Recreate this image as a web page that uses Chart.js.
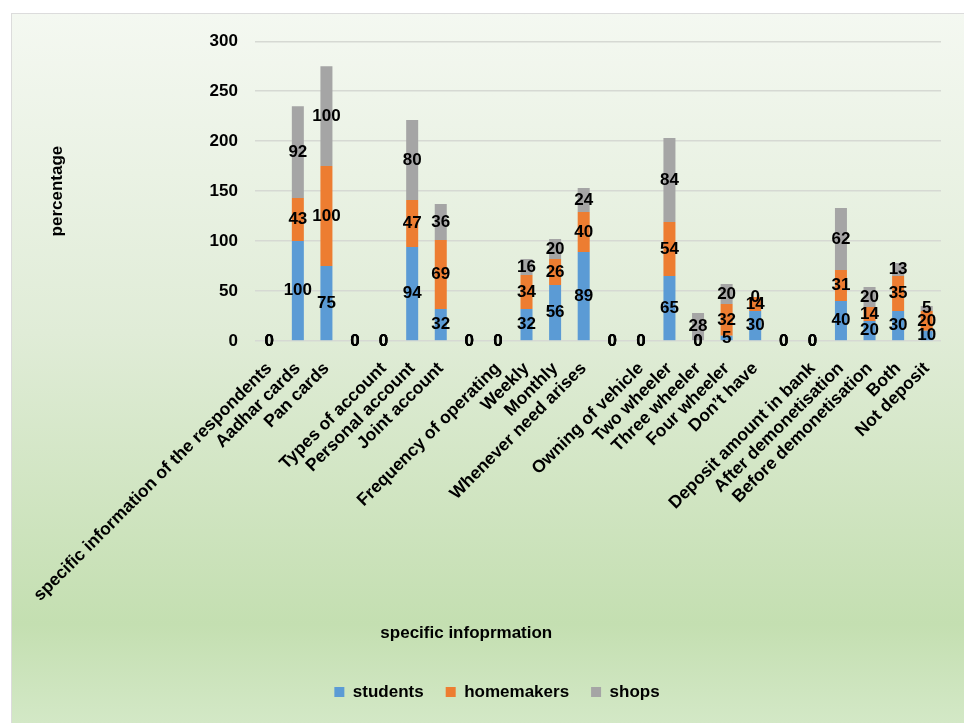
<!DOCTYPE html>
<html>
<head>
<meta charset="utf-8">
<title>specific infoprmation</title>
<script src="https://cdn.jsdelivr.net/npm/chart.js@4/dist/chart.umd.min.js"></script>
<style>
  html, body { margin: 0; padding: 0; background: #ffffff; }
  #frame {
    position: absolute; left: 11px; top: 13px;
    border-left: 1px solid #dcdcdc; border-top: 1px solid #dcdcdc;
  }
  canvas { display: block; }
</style>
</head>
<body>
<div id="frame"><canvas id="chart" width="952" height="709"></canvas></div>
<script>
// Category rows (empty strings are spacer rows between question groups)
const categories = [
  'specific information of the respondents', 'Aadhar cards', 'Pan cards', '',
  'Types of account', 'Personal account', 'Joint account', '',
  'Frequency of operating', 'Weekly', 'Monthly', 'Whenever need arises', '',
  'Owning of vehicle', 'Two wheeler', 'Three wheeler', 'Four wheeler', 'Don\u2019t have', '',
  'Deposit amount in bank', 'After demonetisation', 'Before demonetisation', 'Both', 'Not deposit'
];

// Percentages per respondent group
const students   = [0, 100, 75, 0, 0, 94, 32, 0, 0, 32, 56, 89, 0, 0, 65, 0, 5, 30, 0, 0, 40, 20, 30, 10];
const homemakers = [0, 43, 100, 0, 0, 47, 69, 0, 0, 34, 26, 40, 0, 0, 54, 0, 32, 14, 0, 0, 31, 14, 35, 20];
const shops      = [0, 92, 100, 0, 0, 80, 36, 0, 0, 16, 20, 24, 0, 0, 84, 28, 20, 0, 0, 0, 62, 20, 13, 5];

const seriesNames  = ['students', 'homemakers', 'shops'];
const seriesColors = ['#5b9bd5', '#ed7d31', '#a5a5a5'];

// Value axis ticks
const yMin = 0, yMax = 300, yStep = 50;

const axisTitleX = 'specific infoprmation';
const axisTitleY = 'percentage';

Chart.defaults.font.family = '"Liberation Sans", Arial, sans-serif';
Chart.defaults.color = '#000000';

// Soft green panel behind the whole chart
const backdrop = {
  id: 'backdrop',
  beforeDraw(chart) {
    const { ctx, width, height } = chart;
    const g = ctx.createLinearGradient(0, 0, 0, height);
    g.addColorStop(0.00, '#f4f8f1');
    g.addColorStop(0.45, '#e0ecd7');
    g.addColorStop(0.86, '#c4dfb1');
    g.addColorStop(1.00, '#d3e8c6');
    ctx.save();
    ctx.fillStyle = g;
    ctx.fillRect(0, 0, width, height);
    ctx.restore();
  }
};

// Value printed in the middle of every stacked segment
const valueLabels = {
  id: 'valueLabels',
  afterDatasetsDraw(chart) {
    const ctx = chart.ctx;
    ctx.save();
    ctx.font = 'bold 17px "Liberation Sans", Arial, sans-serif';
    ctx.fillStyle = '#000000';
    ctx.textAlign = 'center';
    ctx.textBaseline = 'middle';
    chart.data.datasets.forEach((ds, i) => {
      const meta = chart.getDatasetMeta(i);
      meta.data.forEach((bar, j) => {
        const y = (bar.y + bar.base) / 2;
        ctx.fillText(String(ds.data[j]), bar.x, y);
      });
    });
    ctx.restore();
  }
};

const seriesData = [students, homemakers, shops];

new Chart(document.getElementById('chart'), {
  type: 'bar',
  data: {
    labels: categories,
    datasets: seriesNames.map((name, i) => ({
      label: name,
      data: seriesData[i],
      backgroundColor: seriesColors[i],
      borderWidth: 0,
      barPercentage: 0.42,
      categoryPercentage: 1.0
    }))
  },
  options: {
    responsive: false,
    animation: false,
    layout: { padding: { left: 18, right: 0, top: 27, bottom: 12.5 } },
    scales: {
      x: {
        stacked: true,
        grid: { display: false, drawTicks: false },
        border: { display: false },
        ticks: {
          autoSkip: false,
          maxRotation: 45,
          minRotation: 45,
          padding: 17.5,
          color: '#000000',
          font: { size: 17.5, weight: 'bold' }
        },
        afterFit(scale) { scale.paddingRight = 23; }
      },
      y: {
        stacked: true,
        min: yMin,
        max: yMax,
        grid: { color: '#d6d9d3', lineWidth: 1.4, drawTicks: false },
        border: { display: false },
        ticks: {
          stepSize: yStep,
          padding: 17,
          color: '#000000',
          font: { size: 17, weight: 'bold' }
        },
        title: {
          display: true,
          text: axisTitleY,
          color: '#000000',
          font: { size: 17, weight: 'bold' },
          padding: { top: 16.8, bottom: 125.4 }
        }
      }
    },
    plugins: {
      legend: {
        position: 'bottom',
        labels: {
          boxWidth: 10,
          boxHeight: 10,
          padding: 22,
          color: '#000000',
          font: { size: 17, weight: 'bold' }
        }
      },
      title: {
        display: true,
        position: 'bottom',
        weight: 500,
        text: axisTitleX + '             ',
        color: '#000000',
        font: { size: 17, weight: 'bold' },
        padding: { top: 0, bottom: 18 }
      },
      tooltip: { enabled: false }
    }
  },
  plugins: [backdrop, valueLabels]
});
</script>
</body>
</html>
